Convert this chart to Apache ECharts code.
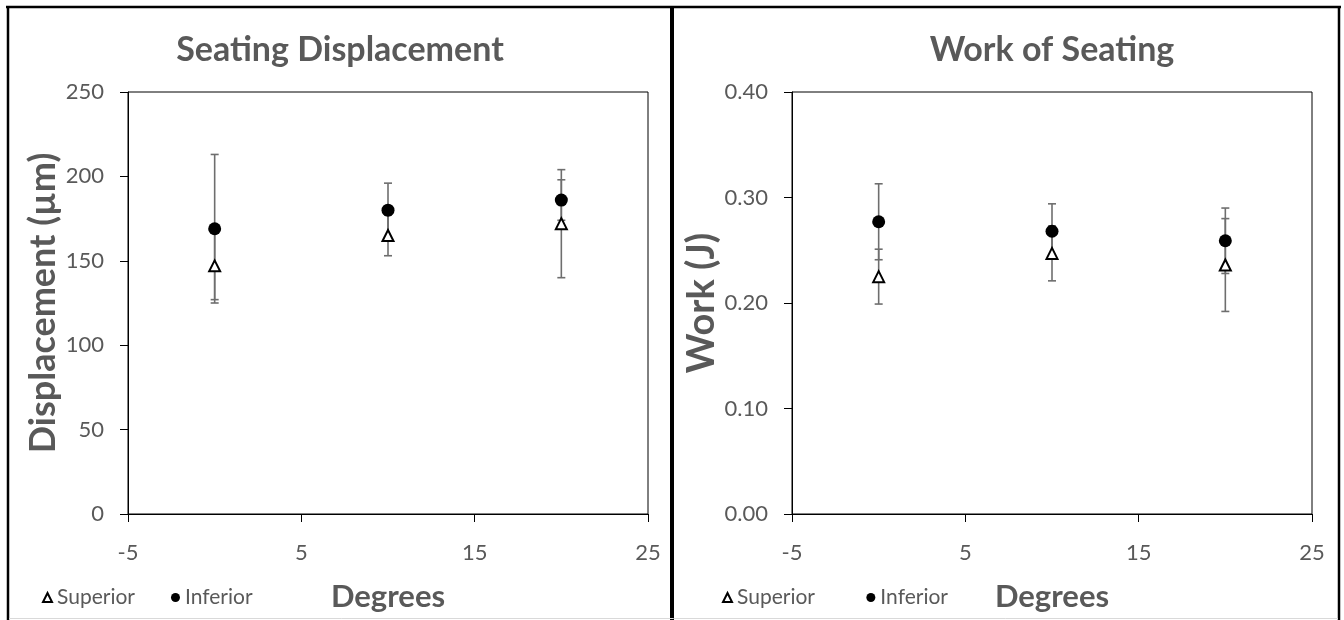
<!DOCTYPE html>
<html>
<head>
<meta charset="utf-8">
<script src="https://cdn.jsdelivr.net/npm/echarts@6/dist/echarts.min.js"></script>
<style>html,body{margin:0;padding:0;background:#fff}#c{width:1344px;height:620px}</style>
</head>
<body>
<div id="c"></div>
<script>
var degrees = [0, 10, 20];
var dispSuperior = [147, 165, 172];
var dispSuperiorErr = [20, 12, 32];
var dispInferior = [169, 180, 186];
var dispInferiorErr = [44, 16, 12];
var workSuperior = [0.225, 0.247, 0.236];
var workSuperiorErr = [0.026, 0.026, 0.044];
var workInferior = [0.277, 0.268, 0.259];
var workInferiorErr = [0.036, 0.026, 0.031];
var xTicks = [-5, 5, 15, 25];
var dispTicks = [0, 50, 100, 150, 200, 250];
var workTicks = [0.00, 0.10, 0.20, 0.30, 0.40];

var FONT = 'Lato';
var GRAY = '#595959';

function pts(xs, ys) { return xs.map(function (x, i) { return [x, ys[i]]; }); }
function errs(xs, ys, es) { return xs.map(function (x, i) { return [x, ys[i] - es[i], ys[i] + es[i]]; }); }

function errRender(params, api) {
  var x = api.value(0), lo = api.value(1), hi = api.value(2);
  var p1 = api.coord([x, hi]), p2 = api.coord([x, lo]);
  var hw = 4;
  var st = { stroke: '#6e6e6e', lineWidth: 1.6 };
  return {
    type: 'group',
    children: [
      { type: 'line', shape: { x1: p1[0], y1: p1[1], x2: p2[0], y2: p2[1] }, style: st },
      { type: 'line', shape: { x1: p1[0] - hw, y1: p1[1], x2: p1[0] + hw, y2: p1[1] }, style: st },
      { type: 'line', shape: { x1: p2[0] - hw, y1: p2[1], x2: p2[0] + hw, y2: p2[1] }, style: st }
    ]
  };
}

function xAxis(gi) {
  return {
    type: 'value', gridIndex: gi, min: xTicks[0], max: xTicks[xTicks.length - 1], interval: 10,
    name: 'Degrees', nameLocation: 'middle', nameGap: 67,
    nameTextStyle: { fontFamily: FONT, fontWeight: 'bold', fontSize: 31, color: GRAY },
    axisLine: { onZero: false, lineStyle: { color: '#000', width: 1 } },
    axisTick: { show: true, inside: false, length: 8, lineStyle: { color: '#000' } },
    axisLabel: { fontFamily: FONT, fontSize: 22, color: GRAY, margin: 28 },
    splitLine: { show: false }
  };
}

function yAxis(gi, ticks, step, name, nameSize, gap, fmt) {
  return {
    type: 'value', gridIndex: gi, min: ticks[0], max: ticks[ticks.length - 1], interval: step,
    name: name, nameLocation: 'middle', nameGap: gap, nameRotate: 90,
    nameTextStyle: { fontFamily: FONT, fontWeight: 'bold', fontSize: nameSize, color: GRAY },
    axisLine: { show: true, onZero: false, lineStyle: { color: '#000', width: 1 } },
    axisTick: { show: true, inside: false, length: 8, lineStyle: { color: '#000' } },
    axisLabel: { fontFamily: FONT, fontSize: 22, color: GRAY, margin: 24, formatter: fmt },
    splitLine: { show: false }
  };
}

var option = {
  animation: false,
  backgroundColor: '#fff',
  title: [
    { text: 'Seating Displacement', left: 340, top: 33, textAlign: 'center', padding: 0,
      textStyle: { fontFamily: FONT, fontWeight: 'bold', fontSize: 34, color: GRAY } },
    { text: 'Work of Seating', left: 1052, top: 33, textAlign: 'center', padding: 0,
      textStyle: { fontFamily: FONT, fontWeight: 'bold', fontSize: 34, color: GRAY } }
  ],
  legend: [
    { left: 42, top: 587, itemWidth: 9, itemHeight: 9, itemGap: 36, padding: 0,
      textStyle: { fontFamily: FONT, fontSize: 21, color: GRAY },
      data: ['Superior', 'Inferior'] },
    { left: 722, top: 587, itemWidth: 9, itemHeight: 9, itemGap: 46, padding: 0,
      textStyle: { fontFamily: FONT, fontSize: 21, color: GRAY },
      data: ['Superior ', 'Inferior '] }
  ],
  grid: [
    { left: 128, top: 92, width: 520, height: 422, show: true, borderColor: '#000', borderWidth: 1, backgroundColor: 'transparent' },
    { left: 792, top: 92, width: 520, height: 422, show: true, borderColor: '#000', borderWidth: 1, backgroundColor: 'transparent' }
  ],
  xAxis: [xAxis(0), xAxis(1)],
  yAxis: [
    yAxis(0, dispTicks, 50, 'Displacement (µm)', 36, 67, null),
    yAxis(1, workTicks, 0.1, 'Work (J)', 38, 66, function (v) { return v.toFixed(2); })
  ],
  graphic: [
    { type: 'line', shape: { x1: 6, y1: 7, x2: 1341, y2: 7 }, style: { stroke: '#000', lineWidth: 2.5 } },
    { type: 'line', shape: { x1: 8, y1: 6, x2: 8, y2: 620 }, style: { stroke: '#000', lineWidth: 2.5 } },
    { type: 'line', shape: { x1: 672, y1: 6, x2: 672, y2: 620 }, style: { stroke: '#000', lineWidth: 4 } },
    { type: 'line', shape: { x1: 1339, y1: 6, x2: 1339, y2: 620 }, style: { stroke: '#000', lineWidth: 2.5 } },
    { type: 'line', shape: { x1: 9, y1: 618.5, x2: 1338, y2: 618.5 }, style: { stroke: '#d9d9d9', lineWidth: 1 } }
  ],
  series: [
    { type: 'custom', name: 'errDS', xAxisIndex: 0, yAxisIndex: 0, renderItem: errRender, data: errs(degrees, dispSuperior, dispSuperiorErr), z: 1 },
    { type: 'custom', name: 'errDI', xAxisIndex: 0, yAxisIndex: 0, renderItem: errRender, data: errs(degrees, dispInferior, dispInferiorErr), z: 1 },
    { type: 'custom', name: 'errWS', xAxisIndex: 1, yAxisIndex: 1, renderItem: errRender, data: errs(degrees, workSuperior, workSuperiorErr), z: 1 },
    { type: 'custom', name: 'errWI', xAxisIndex: 1, yAxisIndex: 1, renderItem: errRender, data: errs(degrees, workInferior, workInferiorErr), z: 1 },
    { type: 'scatter', name: 'Superior', xAxisIndex: 0, yAxisIndex: 0, symbol: 'triangle', symbolSize: [11, 11],
      itemStyle: { color: '#fff', borderColor: '#000', borderWidth: 2, opacity: 1 }, data: pts(degrees, dispSuperior), z: 3 },
    { type: 'scatter', name: 'Inferior', xAxisIndex: 0, yAxisIndex: 0, symbol: 'circle', symbolSize: 13,
      itemStyle: { color: '#000', opacity: 1 }, data: pts(degrees, dispInferior), z: 3 },
    { type: 'scatter', name: 'Superior ', xAxisIndex: 1, yAxisIndex: 1, symbol: 'triangle', symbolSize: [11, 11],
      itemStyle: { color: '#fff', borderColor: '#000', borderWidth: 2, opacity: 1 }, data: pts(degrees, workSuperior), z: 3 },
    { type: 'scatter', name: 'Inferior ', xAxisIndex: 1, yAxisIndex: 1, symbol: 'circle', symbolSize: 13,
      itemStyle: { color: '#000', opacity: 1 }, data: pts(degrees, workInferior), z: 3 }
  ]
};
var chart = echarts.init(document.getElementById('c'), null, { renderer: 'canvas' });
chart.setOption(option);
</script>
</body>
</html>
